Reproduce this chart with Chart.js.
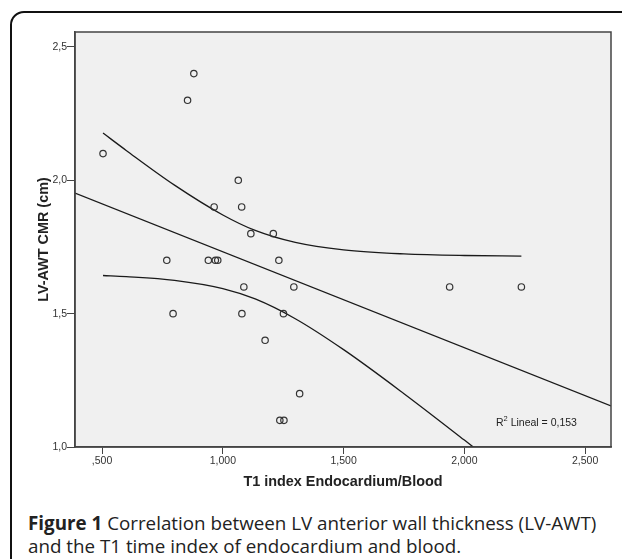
<!DOCTYPE html>
<html>
<head>
<meta charset="utf-8">
<script src="https://cdn.jsdelivr.net/npm/chart.js@4/dist/chart.umd.min.js"></script>
<style>
  html, body { margin: 0; padding: 0; background: #fff; }
  body { width: 622px; height: 559px; overflow: hidden; position: relative; }
  #frame { position: absolute; left: 10px; top: 11px; width: 700px; height: 700px; border: 2px solid #111; border-top-left-radius: 14px; box-sizing: border-box; }
  #wrap { position: absolute; left: 0; top: 0; width: 622px; height: 500px; }
  #caption { position: absolute; left: 28px; top: 512px; font-family: "Open Sans", sans-serif; font-size: 18.8px; line-height: 23px; color: #222; white-space: nowrap; }
</style>
</head>
<body>
<div id="frame"></div>
<div id="wrap"><canvas id="grafico" width="622" height="500"></canvas></div>
<div id="caption"><b>Figure 1</b> Correlation between LV anterior wall thickness (LV-AWT)<br>and the T1 time index of endocardium and blood.</div>
<script>
let ctx = document.getElementById('grafico');

// valores
const t1Index = [0.504, 0.768, 0.794, 0.854, 0.880, 0.940, 0.964, 0.969, 0.979, 1.064, 1.078, 1.079,
                 1.087, 1.116, 1.175, 1.209, 1.232, 1.236, 1.251, 1.253, 1.294, 1.318, 1.939, 2.236];
const lvAwt = [2.1, 1.7, 1.5, 2.3, 2.4, 1.7, 1.9, 1.7, 1.7, 2.0, 1.9, 1.5,
               1.6, 1.8, 1.4, 1.8, 1.7, 1.1, 1.5, 1.1, 1.6, 1.2, 1.6, 1.6];

// reta de regressão e intervalo de confiança
const fitX = [0.388, 2.607];
const fitY = [1.952, 1.154];
const bandX = [0.504, 0.6, 0.8, 1.0, 1.134, 1.3, 1.5, 1.75, 2.0, 2.236];
const bandUpper = [2.177, 2.112, 1.982, 1.870, 1.812, 1.767, 1.739, 1.724, 1.718, 1.716];
const bandLower = [1.643, 1.639, 1.625, 1.594, 1.555, 1.481, 1.365, 1.200, 1.026, 0.859];

const xTicks = [0.5, 1.0, 1.5, 2.0, 2.5];
const yTicks = [1.0, 1.5, 2.0, 2.5];
const r2Text = ' Lineal = 0,153';

const toPts = (xs, ys) => xs.map((x, i) => ({ x: x, y: ys[i] }));

const lineStyle = {
    showLine: true,
    pointRadius: 0,
    borderColor: '#1a1a1a',
    borderWidth: 1.3,
    fill: false
};

const data = {
    datasets: [
        {
            data: toPts(t1Index, lvAwt),
            pointStyle: 'circle',
            pointRadius: 3.2,
            backgroundColor: 'transparent',
            borderColor: '#333',
            borderWidth: 1.2
        },
        { data: toPts(fitX, fitY), ...lineStyle },
        { data: toPts(bandX, bandUpper), ...lineStyle, cubicInterpolationMode: 'monotone' },
        { data: toPts(bandX, bandLower), ...lineStyle, cubicInterpolationMode: 'monotone' }
    ]
};

const plotBox = {
    id: 'plotBox',
    beforeDraw(chart) {
        const a = chart.chartArea, c = chart.ctx;
        c.save();
        c.fillStyle = '#f0f0f0';
        c.fillRect(a.left, a.top, a.right - a.left, a.bottom - a.top);
        c.restore();
    },
    afterDraw(chart) {
        const a = chart.chartArea, c = chart.ctx;
        c.save();
        c.strokeStyle = '#444';
        c.lineWidth = 1.5;
        c.strokeRect(a.left, a.top, a.right - a.left, a.bottom - a.top);
        // R² Lineal
        c.fillStyle = '#222';
        c.textBaseline = 'middle';
        let x = a.right - 115, y = a.bottom - 24;
        c.font = '10.5px Arial';
        c.fillText('R', x, y);
        x += c.measureText('R').width;
        c.font = '7.5px Arial';
        c.fillText('2', x, y - 4);
        x += c.measureText('2').width;
        c.font = '10.5px Arial';
        c.fillText(r2Text, x, y);
        c.restore();
    }
};

const tickFont = { family: 'Arial, sans-serif', size: 10.5 };
const titleFont = { family: 'Arial, sans-serif', size: 14.4, weight: 'bold' };

const config = {
    type: 'scatter',
    data,
    options: {
        responsive: false,
        animation: false,
        layout: { padding: { left: 0, top: 32, right: 11, bottom: 0 } },
        plugins: {
            legend: { display: false },
            tooltip: { enabled: false }
        },
        scales: {
            x: {
                type: 'linear',
                min: 0.388,
                max: 2.607,
                afterBuildTicks: s => { s.ticks = xTicks.map(v => ({ value: v })); },
                afterFit: s => { s.height = 53; },
                ticks: {
                    font: tickFont,
                    color: '#333',
                    padding: 1,
                    maxRotation: 0,
                    callback: v => v.toFixed(3).replace('.', ',').replace(/^0/, '')
                },
                grid: { drawOnChartArea: false, tickLength: 7, color: '#444' },
                border: { color: '#444', width: 1.5 },
                title: {
                    display: true,
                    text: 'T1 index Endocardium/Blood',
                    font: titleFont,
                    color: '#222',
                    padding: { top: 0, bottom: 9 }
                }
            },
            y: {
                min: 1.0,
                max: 2.556,
                afterBuildTicks: s => { s.ticks = yTicks.map(v => ({ value: v })); },
                afterFit: s => { s.width = 75; },
                ticks: {
                    font: tickFont,
                    color: '#333',
                    padding: 0,
                    callback: v => v.toFixed(1).replace('.', ',')
                },
                grid: { drawOnChartArea: false, tickLength: 8, color: '#444' },
                border: { color: '#444', width: 1.5 },
                title: {
                    display: true,
                    text: 'LV-AWT CMR (cm)',
                    font: titleFont,
                    color: '#222',
                    padding: { top: 35, bottom: 0 }
                }
            }
        }
    },
    plugins: [plotBox]
};

new Chart(ctx, config);
</script>
</body>
</html>
